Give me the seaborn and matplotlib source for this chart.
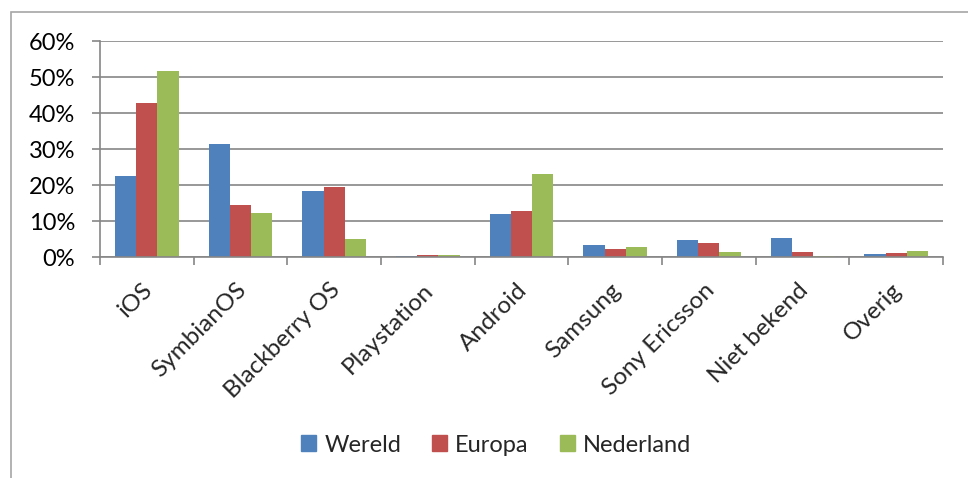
import matplotlib
matplotlib.use("Agg")
import matplotlib.pyplot as plt
import matplotlib.patches as mpatches
import matplotlib.transforms as mtransforms
import numpy as np
import pandas as pd
import seaborn as sns
from matplotlib.ticker import PercentFormatter, FixedLocator, NullFormatter

categories = ["iOS", "SymbianOS", "Blackberry OS", "Playstation", "Android",
              "Samsung", "Sony Ericsson", "Niet bekend", "Overig"]
wereld = [22.5, 31.3, 18.4, 0.3, 11.9, 3.3, 4.7, 5.3, 0.9]
europa = [42.9, 14.4, 19.4, 0.5, 12.9, 2.1, 4.0, 1.5, 1.1]
nederland = [51.7, 12.2, 5.0, 0.5, 23.1, 2.7, 1.3, 0.3, 1.8]
series_names = ["Wereld", "Europa", "Nederland"]
colors = ["#4F81BD", "#C0504D", "#9BBB59"]

df = pd.DataFrame({
    "Platform": categories * 3,
    "Regio": sum([[n] * len(categories) for n in series_names], []),
    "Aandeel": wereld + europa + nederland,
})

sns.set_theme(style="white")
plt.rcParams["font.family"] = ["Lato", "DejaVu Sans"]

W, H = 968, 478
fig = plt.figure(figsize=(W / 100, H / 100), dpi=100)
ax = fig.add_axes([100 / W, 1 - 257 / H, (943 - 100) / W, (257 - 41) / H])

sns.barplot(data=df, x="Platform", y="Aandeel", hue="Regio", order=categories,
            hue_order=series_names, palette=colors, width=0.68, saturation=1,
            edgecolor="none", ax=ax, legend=False)

grid_c = "#868686"
ax.set_ylim(0, 60)
ax.set_xlim(-0.5, len(categories) - 0.5)
ax.yaxis.set_major_formatter(PercentFormatter(decimals=0))
ax.set_yticks(np.arange(0, 61, 10))
ax.yaxis.grid(True, color=grid_c, linewidth=1.2)
ax.set_axisbelow(True)
ax.tick_params(axis="y", left=True, length=6, width=1.2, color=grid_c,
               labelsize=17, pad=12, labelcolor="black")

# category boundaries carry the tick marks on the x axis
ax.xaxis.set_minor_locator(FixedLocator(np.arange(-0.5, len(categories), 1.0)))
ax.xaxis.set_minor_formatter(NullFormatter())
ax.tick_params(axis="x", which="minor", bottom=True, length=6, width=1.2, color=grid_c)
ax.tick_params(axis="x", which="major", bottom=False, length=0, pad=16)
ax.set_xticks(range(len(categories)))
ax.set_xticklabels(categories, rotation=45, ha="right", va="top",
                   rotation_mode="anchor", fontsize=17.5)
shift = mtransforms.ScaledTranslation(-5 / 100, 0, fig.dpi_scale_trans)
for lbl in ax.get_xticklabels():
    lbl.set_transform(lbl.get_transform() + shift)
ax.set_xlabel("")
ax.set_ylabel("")

for side in ["top", "right"]:
    ax.spines[side].set_visible(False)
for side in ["left", "bottom"]:
    ax.spines[side].set_color(grid_c)
    ax.spines[side].set_linewidth(1.2)

handles = [mpatches.Patch(color=c, label=n) for c, n in zip(colors, series_names)]
fig.legend(handles=handles, loc="center", bbox_to_anchor=(496 / W, 1 - 445 / H),
           ncol=3, frameon=False, fontsize=17, handlelength=0.65, handleheight=0.65,
           handletextpad=0.35, columnspacing=1.3)

# chart-area frame
frame = mpatches.Rectangle((11 / W, -0.05), 1.2, 1 - 12 / H + 0.05,
                           transform=fig.transFigure, fill=False,
                           edgecolor="#A6A6A6", linewidth=1.2)
fig.patches.append(frame)

fig.savefig("out.png", dpi=100)
